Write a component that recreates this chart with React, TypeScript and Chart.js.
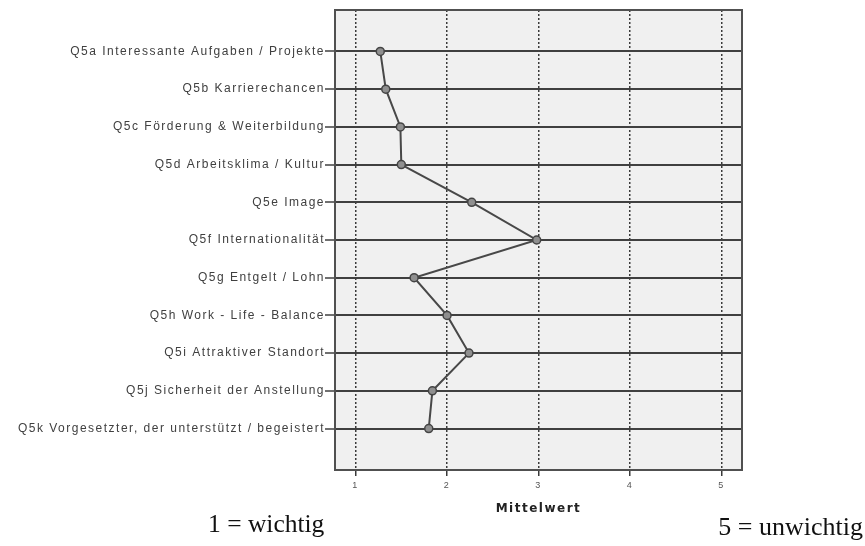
import React, { useEffect, useRef } from 'react';
import { Chart, registerables } from 'chart.js';

Chart.register(...registerables);

const categories: string[] = [
  'Q5a Interessante Aufgaben / Projekte',
  'Q5b Karrierechancen',
  'Q5c Förderung & Weiterbildung',
  'Q5d Arbeitsklima / Kultur',
  'Q5e Image',
  'Q5f Internationalität',
  'Q5g Entgelt / Lohn',
  'Q5h Work - Life - Balance',
  'Q5i Attraktiver Standort',
  'Q5j Sicherheit der Anstellung',
  'Q5k Vorgesetzter, der unterstützt / begeistert',
];

const means: number[] = [1.27, 1.33, 1.49, 1.5, 2.27, 2.98, 1.64, 2.0, 2.24, 1.84, 1.8];

const xTickValues: number[] = [1, 2, 3, 4, 5];
const axisTitle = 'Mittelwert';
const noteLeft = '1 = wichtig';
const noteRight = '5 = unwichtig';

const framePlugin = {
  id: 'spssFrame',
  beforeDraw(chart: any) {
    const { ctx, chartArea: a } = chart;
    ctx.save();
    ctx.fillStyle = '#f0f0f0';
    ctx.fillRect(a.left, a.top, a.right - a.left, a.bottom - a.top);
    ctx.restore();
    (ctx as any).letterSpacing = '1.5px';
  },
  afterDraw(chart: any) {
    const { ctx, chartArea: a } = chart;
    ctx.save();
    ctx.strokeStyle = '#505050';
    ctx.lineWidth = 2;
    ctx.strokeRect(a.left, a.top, a.right - a.left, a.bottom - a.top);
    ctx.restore();
    (ctx as any).letterSpacing = '0px';
  },
};

export default function App() {
  const canvasRef = useRef<HTMLCanvasElement | null>(null);

  useEffect(() => {
    if (!canvasRef.current) return;
    const chart = new Chart(canvasRef.current, {
      type: 'line',
      data: {
        datasets: [
          {
            data: means.map((m, i) => ({ x: m, y: i })),
            borderColor: '#484848',
            borderWidth: 2,
            pointRadius: 4,
            pointBackgroundColor: '#8f8f8f',
            pointBorderColor: '#444444',
            pointBorderWidth: 1.5,
            tension: 0,
          },
        ],
      },
      plugins: [framePlugin],
      options: {
        animation: false,
        responsive: false,
        devicePixelRatio: 1,
        indexAxis: 'y',
        layout: { padding: { top: 10, right: 123, bottom: 0, left: 0 } },
        plugins: {
          legend: { display: false },
          tooltip: { enabled: false },
        },
        scales: {
          x: {
            type: 'linear',
            position: 'bottom',
            min: 0.775,
            max: 5.225,
            afterBuildTicks: (scale: any) => {
              scale.ticks = xTickValues.map((v) => ({ value: v }));
            },
            afterFit: (scale: any) => {
              scale.height = 76;
            },
            grid: {
              color: '#3a3a3a',
              lineWidth: 1.5,
              tickLength: 6,
              tickColor: '#3a3a3a',
              tickWidth: 1.5,
            },
            border: { display: false, dash: [2, 2] },
            ticks: {
              autoSkip: false,
              padding: 4,
              color: '#555555',
              font: { family: '"Liberation Sans", Arial, sans-serif', size: 9 },
              callback: (v: any) => String(v),
            },
            title: {
              display: true,
              text: axisTitle,
              color: '#222222',
              font: { family: '"DejaVu Sans", sans-serif', size: 12, weight: 'bold' },
              padding: { top: 0, bottom: 30 },
            },
          },
          y: {
            type: 'linear',
            position: 'left',
            reverse: true,
            min: -1.1,
            max: 11.1,
            afterBuildTicks: (scale: any) => {
              scale.ticks = categories.map((_, i) => ({ value: i }));
            },
            afterFit: (scale: any) => {
              scale.width = 335;
            },
            grid: {
              color: '#404040',
              lineWidth: 2,
              tickLength: 10,
              tickColor: '#404040',
              tickWidth: 1.5,
            },
            border: { display: false },
            ticks: {
              autoSkip: false,
              padding: 0,
              color: '#404040',
              font: { family: '"Liberation Sans", Arial, sans-serif', size: 12 },
              callback: (v: any) => categories[v] ?? '',
            },
          },
        },
      } as any,
    });
    return () => chart.destroy();
  }, []);

  return (
    <div style={{ position: 'absolute', left: 0, top: 0, width: 865, height: 546, background: '#ffffff' }}>
      <canvas ref={canvasRef} width={865} height={546} style={{ display: 'block' }} />
      <span
        style={{
          position: 'absolute',
          left: 208,
          top: 510.6,
          fontFamily: '"Liberation Serif", "Times New Roman", serif',
          fontSize: 25.5,
          lineHeight: '25.5px',
          color: '#111111',
          whiteSpace: 'nowrap',
        }}
      >
        {noteLeft}
      </span>
      <span
        style={{
          position: 'absolute',
          right: 2,
          top: 514.2,
          fontFamily: '"Liberation Serif", "Times New Roman", serif',
          fontSize: 26,
          lineHeight: '26px',
          color: '#111111',
          whiteSpace: 'nowrap',
        }}
      >
        {noteRight}
      </span>
    </div>
  );
}
